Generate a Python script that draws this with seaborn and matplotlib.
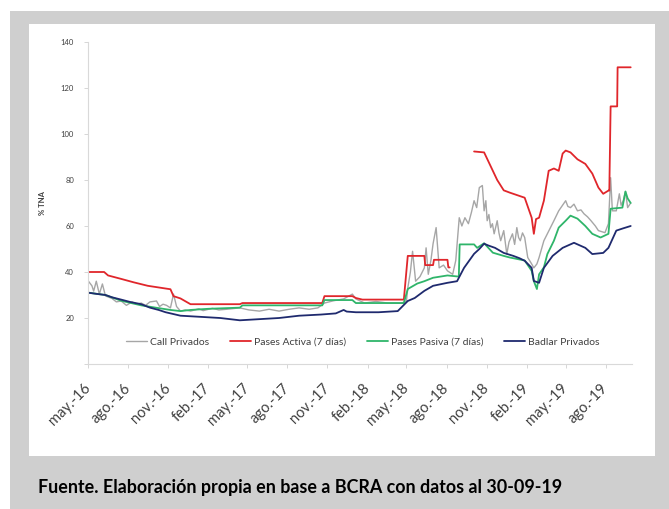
import matplotlib
matplotlib.use("Agg")
import matplotlib.pyplot as plt
from matplotlib.patches import Rectangle
import pandas as pd
import seaborn as sns

# --- series (% TNA) ---------------------------------------------------------
call_fechas = ["2016-05-02", "2016-05-10", "2016-05-14", "2016-05-20", "2016-05-27", "2016-06-03",
               "2016-06-10", "2016-06-25", "2016-07-05", "2016-07-16", "2016-07-28", "2016-08-10",
               "2016-08-20", "2016-08-31", "2016-09-10", "2016-09-20", "2016-10-05", "2016-10-12",
               "2016-10-20", "2016-10-28", "2016-11-06", "2016-11-13", "2016-11-20", "2016-11-29",
               "2016-12-10", "2016-12-22", "2017-01-10", "2017-01-20", "2017-02-10", "2017-02-25",
               "2017-03-15", "2017-04-14", "2017-05-05", "2017-05-29", "2017-06-20", "2017-07-13",
               "2017-08-05", "2017-08-28", "2017-09-20", "2017-10-10", "2017-10-25", "2017-11-15",
               "2017-12-08", "2017-12-28", "2018-01-05", "2018-01-25", "2018-02-20", "2018-03-19",
               "2018-04-20", "2018-05-01", "2018-05-04", "2018-05-10", "2018-05-15", "2018-05-22",
               "2018-06-01", "2018-06-11", "2018-06-15", "2018-06-20", "2018-06-26", "2018-07-01",
               "2018-07-08", "2018-07-12", "2018-07-15", "2018-07-25", "2018-08-03", "2018-08-15",
               "2018-08-22", "2018-08-30", "2018-09-05", "2018-09-12", "2018-09-20", "2018-09-27",
               "2018-10-03", "2018-10-09", "2018-10-15", "2018-10-22", "2018-10-26", "2018-10-30",
               "2018-11-02", "2018-11-06", "2018-11-10", "2018-11-14", "2018-11-18", "2018-11-25",
               "2018-11-29", "2018-12-03", "2018-12-10", "2018-12-14", "2018-12-17", "2018-12-22",
               "2018-12-30", "2019-01-04", "2019-01-09", "2019-01-13", "2019-01-17", "2019-01-22",
               "2019-01-27", "2019-02-03", "2019-02-12", "2019-02-17", "2019-02-24", "2019-03-01",
               "2019-03-12", "2019-03-20", "2019-04-04", "2019-04-15", "2019-05-01", "2019-05-06",
               "2019-05-12", "2019-05-20", "2019-05-28", "2019-06-05", "2019-06-12", "2019-06-20",
               "2019-06-28", "2019-07-08", "2019-07-15", "2019-07-30", "2019-08-07", "2019-08-12",
               "2019-08-16", "2019-08-25", "2019-09-01", "2019-09-05", "2019-09-10", "2019-09-15",
               "2019-09-20", "2019-09-27"]
call_valores = [36, 34, 31.7, 36, 30.4, 34.8,
                29.6, 28.5, 27, 27.4, 25.5, 27,
                26, 26.5, 25.5, 27, 27.4, 25,
                26, 25.5, 24.4, 30.4, 25, 23,
                23.5, 23, 24, 23.2, 24.2, 23.5,
                23.8, 24.4, 23.5, 23, 23.8, 23,
                23.8, 24.4, 23.8, 24.4, 26.5, 27.5,
                28.3, 30.4, 28.3, 26.5, 27.2, 26.5,
                26.5, 27.4, 33, 40, 49, 36,
                38, 41.8, 50.5, 39, 45, 52.3,
                59.3, 49, 41.8, 43, 40.5, 39,
                45, 63.6, 60, 63.6, 61, 66,
                71, 68, 76.7, 77.6, 66.6, 71,
                62.3, 65, 59.3, 61, 56.6, 62.3,
                57, 53.6, 58, 52, 47.8, 53,
                56.6, 52, 59.3, 55, 53.6, 57,
                55, 46.3, 43.5, 41.8, 43.5, 46.3,
                53.6, 56.6, 62.3, 66.6, 71, 68.5,
                68, 69.5, 66.6, 67, 65.3, 64,
                62.3, 60, 58, 57.1, 61, 81,
                66.6, 66.6, 74, 69, 71, 75,
                68, 70]

activa_fechas_1 = ["2016-05-02", "2016-06-07", "2016-06-16", "2016-07-16", "2016-08-14", "2016-09-15",
                   "2016-11-06", "2016-11-13", "2016-11-29", "2016-12-22", "2017-04-14", "2017-04-20",
                   "2017-10-20", "2017-10-25", "2017-12-28", "2018-01-05", "2018-01-20", "2018-04-25",
                   "2018-05-04", "2018-06-11", "2018-06-13", "2018-07-01", "2018-07-03", "2018-08-03",
                   "2018-08-05", "2018-08-08"]
activa_valores_1 = [40, 40, 38.5, 37, 35.5, 34,
                    32.5, 29.5, 28.5, 26, 26, 26.5,
                    26.5, 29.5, 29.5, 28.7, 28, 28,
                    47, 47, 43, 43, 45.3, 45.3,
                    42, 42]
activa_fechas_2 = ["2018-10-03", "2018-10-26", "2018-11-10", "2018-11-25", "2018-12-10", "2018-12-24",
                   "2019-01-27", "2019-02-12", "2019-02-17", "2019-02-22", "2019-03-01", "2019-03-12",
                   "2019-03-23", "2019-04-04", "2019-04-15", "2019-04-24", "2019-05-01", "2019-05-12",
                   "2019-05-28", "2019-06-15", "2019-07-01", "2019-07-15", "2019-07-26", "2019-08-07",
                   "2019-08-09", "2019-08-12", "2019-08-27", "2019-08-28", "2019-09-27"]
activa_valores_2 = [92.4, 92, 86, 80, 75.5, 74.5,
                    72.3, 63.6, 56.6, 63, 63.6, 71,
                    84, 85, 84, 91.5, 92.8, 92,
                    89, 87, 82.8, 76.7, 74, 75.4,
                    75.4, 112, 112, 129, 129]

pasiva_fechas = ["2016-05-02", "2016-06-10", "2016-07-16", "2016-08-31", "2016-10-03", "2016-11-06",
                 "2016-11-29", "2016-12-22", "2017-02-01", "2017-04-14", "2017-04-20", "2017-10-20",
                 "2017-10-25", "2017-12-28", "2018-01-05", "2018-04-25", "2018-05-04", "2018-05-26",
                 "2018-06-11", "2018-07-01", "2018-08-03", "2018-08-29", "2018-08-31", "2018-10-03",
                 "2018-10-10", "2018-10-26", "2018-11-15", "2018-12-10", "2018-12-24", "2019-01-27",
                 "2019-02-12", "2019-02-17", "2019-02-24", "2019-03-01", "2019-03-12", "2019-03-20",
                 "2019-04-04", "2019-04-15", "2019-05-01", "2019-05-12", "2019-05-28", "2019-06-15",
                 "2019-07-01", "2019-07-20", "2019-08-07", "2019-08-12", "2019-09-08", "2019-09-15",
                 "2019-09-20", "2019-09-27"]
pasiva_valores = [31, 30, 27.5, 25.5, 24.5, 23.5,
                  23, 23.5, 24, 24.5, 25.5, 25.5,
                  27.8, 27.8, 26.5, 26.5, 32.6, 35,
                  36, 37.5, 38.5, 38, 52, 52,
                  50.5, 52.5, 48.4, 47, 46.3, 45,
                  40.5, 36, 32.6, 39, 42, 47.8,
                  53.6, 59.3, 62.3, 64.5, 63.2, 60,
                  56.6, 55, 56.6, 67.5, 68, 75,
                  72, 70]

badlar_fechas = ["2016-05-02", "2016-05-20", "2016-06-10", "2016-06-25", "2016-07-16", "2016-08-05",
                 "2016-08-31", "2016-09-20", "2016-10-10", "2016-10-26", "2016-11-29", "2017-01-14",
                 "2017-02-28", "2017-04-14", "2017-05-29", "2017-07-13", "2017-08-28", "2017-10-17",
                 "2017-11-20", "2017-12-08", "2017-12-15", "2018-01-05", "2018-02-26", "2018-04-11",
                 "2018-05-04", "2018-05-20", "2018-06-11", "2018-07-01", "2018-08-03", "2018-08-25",
                 "2018-09-10", "2018-10-03", "2018-10-15", "2018-10-26", "2018-11-05", "2018-11-20",
                 "2018-12-10", "2019-01-01", "2019-01-15", "2019-01-27", "2019-02-12", "2019-02-17",
                 "2019-03-01", "2019-03-12", "2019-04-01", "2019-04-24", "2019-05-20", "2019-06-15",
                 "2019-07-01", "2019-07-26", "2019-08-07", "2019-08-25", "2019-09-10", "2019-09-27"]
badlar_valores = [31, 30.5, 30, 29, 28, 27,
                  26, 24.5, 23.5, 22.5, 21, 20.5,
                  20, 19, 19.5, 20, 21, 21.5,
                  22, 23.5, 22.8, 22.5, 22.5, 23,
                  27.4, 28.7, 31.8, 34, 35.3, 36,
                  41.8, 47.9, 50, 52.3, 51.5, 50.5,
                  48.3, 47, 46, 44.9, 41.8, 36.1,
                  35.3, 41.8, 47, 50.5, 52.7, 50.5,
                  47.8, 48.3, 50.5, 58, 59, 60]

series = ["Call Privados", "Pases Activa (7 días)", "Pases Pasiva (7 días)", "Badlar Privados"]
colores = ["#a6a6a6", "#e0262b", "#2fb56a", "#1f2a6e"]
grosores = [1.0, 1.3, 1.3, 1.3]

tick_fechas = ["2016-05-01", "2016-08-01", "2016-11-01", "2017-02-01", "2017-05-01", "2017-08-01",
               "2017-11-01", "2018-02-01", "2018-05-01", "2018-08-01", "2018-11-01", "2019-02-01",
               "2019-05-01", "2019-08-01"]
tick_textos = ["may.-16", "ago.-16", "nov.-16", "feb.-17", "may.-17", "ago.-17", "nov.-17",
               "feb.-18", "may.-18", "ago.-18", "nov.-18", "feb.-19", "may.-19", "ago.-19"]
y_ticks = [0, 20, 40, 60, 80, 100, 120, 140]

fuente = "Fuente. Elaboración propia en base a BCRA con datos al 30-09-19"

# --- long-form table ------------------------------------------------------
def tramo(fechas, valores, nombre, seg):
    return pd.DataFrame({"fecha": pd.to_datetime(fechas), "tasa": valores,
                         "serie": nombre, "tramo": seg})

df = pd.concat([
    tramo(call_fechas, call_valores, series[0], 0),
    tramo(activa_fechas_1, activa_valores_1, series[1], 1),
    tramo(activa_fechas_2, activa_valores_2, series[1], 2),
    tramo(pasiva_fechas, pasiva_valores, series[2], 3),
    tramo(badlar_fechas, badlar_valores, series[3], 4),
], ignore_index=True)

sns.set_theme(style="white")
plt.rcParams["font.family"] = ["Lato", "DejaVu Sans"]

W, H = 669, 509
fig = plt.figure(figsize=(W / 100, H / 100), dpi=100)
fig.patch.set_facecolor("white")
# grey frame and white inner panel
fig.add_artist(Rectangle((10 / W, 0), 1 - 10 / W, 1 - 11 / H, transform=fig.transFigure,
                         facecolor="#cfcfcf", edgecolor="none", zorder=0))
fig.add_artist(Rectangle((29 / W, 1 - 456 / H), (655 - 29) / W, (456 - 24) / H,
                         transform=fig.transFigure, facecolor="white", edgecolor="none", zorder=0))

ax = fig.add_axes([88 / W, 1 - 364 / H, (632 - 88) / W, (364 - 42) / H])
ax.set_facecolor("none")

sns.lineplot(data=df, x="fecha", y="tasa", hue="serie", units="tramo", estimator=None,
             hue_order=series, palette=colores, linewidth=1.3, sort=False, ax=ax)
for linea, nombre in zip(ax.get_lines(), [series[0], series[1], series[1], series[2], series[3]]):
    linea.set_linewidth(grosores[series.index(nombre)])

ax.set_ylim(0, 140)
ax.set_xlim(pd.Timestamp("2016-05-01"), pd.Timestamp("2019-09-30"))
ax.set_yticks(y_ticks)
ax.set_yticklabels(["" if v == 0 else str(v) for v in y_ticks], fontsize=5.5, color="#404040")
ax.set_xticks(pd.to_datetime(tick_fechas))
ax.set_xticklabels(tick_textos, rotation=45, ha="right", va="center",
                   rotation_mode="anchor", fontsize=10.5, color="#404040")
ax.tick_params(axis="x", length=3, width=0.6, color="#d0d0d0", pad=13)
ax.tick_params(axis="y", length=3, width=0.6, color="#d0d0d0", pad=7)
ax.tick_params(left=True, bottom=True)
for s in ["top", "right"]:
    ax.spines[s].set_visible(False)
for s in ["left", "bottom"]:
    ax.spines[s].set_color("#d9d9d9")
    ax.spines[s].set_linewidth(0.8)
ax.grid(False)
ax.set_xlabel("")
ax.set_ylabel("% TNA", fontsize=5.5, fontweight="bold", color="#404040", labelpad=11)

h, l = ax.get_legend_handles_labels()
leg = ax.legend(h, l, ncol=4, loc="center", bbox_to_anchor=(0.505, 22 / (364 - 42)),
                frameon=False, fontsize=7.5, handlelength=2.0, handletextpad=0.3,
                columnspacing=2.0, labelcolor="#404040")
for lh, g in zip(leg.get_lines(), grosores):
    lh.set_linewidth(g)

fig.text(38 / W, 1 - 488 / H, fuente, fontsize=12.9, fontweight="bold", color="black",
         ha="left", va="center")

fig.savefig("out.png", dpi=100)
